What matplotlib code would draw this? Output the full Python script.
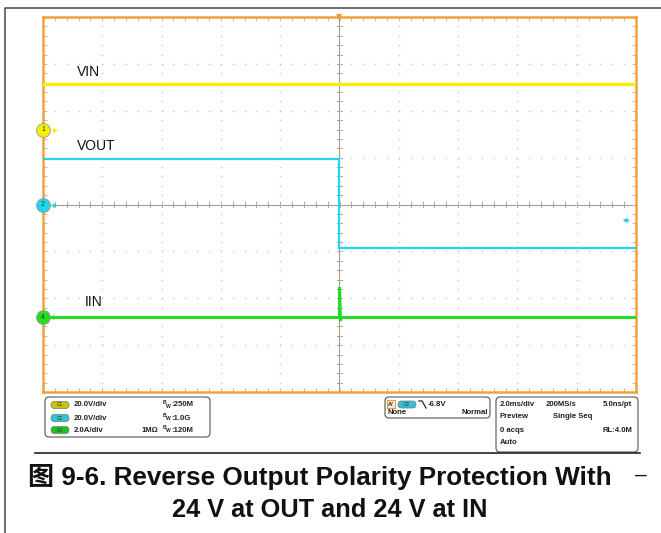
import numpy as np
import matplotlib
matplotlib.use("Agg")
import matplotlib.pyplot as plt
from matplotlib.patches import FancyBboxPatch, Rectangle

# ── Scope capture data ────────────────────────────────────────────────────
# time in ms (2.0 ms/div, 10 divisions), trigger at t = 0
vin_t = [-10.0, 10.0]
vin_v = [19.6, 19.6]

vout_t = [-10.0, 0.0, 0.0, 10.0]
vout_v = [19.6, 19.6, -18.7, -18.7]

iin_t = [-10.0, 0.0, 0.0, 0.03, 0.06, 10.0]
iin_a = [0.0, 0.0, 1.3, -0.15, 0.0, 0.0]

# per-channel volts (amps) per division and ground offset in divisions
ch_names = ["VIN", "VOUT", "IIN"]
ch_ids = ["1", "2", "4"]
ch_scale = [20.0, 20.0, 2.0]
ch_offset = [1.60, 0.0, -2.41]
ch_colors = ["#f5ef00", "#22d6ee", "#22dd22"]
trig_level = -6.8   # V, on C2

# readout panel text
ch_rows = [("C1", "20.0V/div", "", "250M"),
           ("C2", "20.0V/div", "", "1.0G"),
           ("C4", "2.0A/div", "1MΩ", "120M")]
pill_colors = ["#c8c400", "#2ec4d6", "#22c022"]
acq_rows = [("2.0ms/div", "200MS/s", "5.0ns/pt"),
            ("Preview", "Single Seq", ""),
            ("0 acqs", "", "RL:4.0M"),
            ("Auto", "", "")]

title_lines = ["图 9-6. Reverse Output Polarity Protection With",
               "24 V at OUT and 24 V at IN"]

W, H = 661, 533
fig = plt.figure(figsize=(W / 100, H / 100), dpi=100)
plt.rcParams['font.family'] = ['Liberation Sans', 'Noto Sans CJK SC', 'DejaVu Sans']

# overlay in pixel coordinates for the page furniture
bg = fig.add_axes([0, 0, 1, 1])
bg.set_xlim(0, W); bg.set_ylim(H, 0); bg.axis("off")
bg.plot([4.5, 4.5, W], [H, 7.5, 7.5], color="#555555", lw=1.2)

# ── Graticule ─────────────────────────────────────────────────────────────
ax = fig.add_axes([43 / W, (H - 392) / H, 593 / W, 375 / H])
ax.set_xlim(-10, 10)
ax.set_ylim(-4, 4)
for s in ax.spines.values():
    s.set_color("#f2a23c"); s.set_linewidth(1.8)
ax.set_xticks(np.arange(-10, 10.01, 0.4))
ax.set_yticks(np.arange(-4, 4.01, 0.2))
ax.tick_params(direction="in", length=3, width=0.8, color="#c4bcb0",
               top=True, right=True, labelbottom=False, labelleft=False)

dot_x = np.arange(-10, 10.01, 0.4)
dot_y = np.arange(-4, 4.01, 0.2)
for gy in range(-3, 4):
    if gy != 0:
        ax.plot(dot_x, np.full_like(dot_x, gy), ls="none", marker="s",
                ms=1.0, color="#c4c4c4", mew=0)
for gx in range(-8, 9, 2):
    if gx != 0:
        ax.plot(np.full_like(dot_y, gx), dot_y, ls="none", marker="s",
                ms=1.0, color="#c4c4c4", mew=0)

# centre cross with minor ticks
ax.axhline(0, color="#a89c8c", lw=0.8, zorder=1)
ax.axvline(0, color="#a89c8c", lw=0.8, zorder=1)
for x in np.arange(-10, 10.01, 0.4):
    ax.plot([x, x], [-0.06, 0.06], color="#b0a494", lw=0.7, zorder=1)
for y in np.arange(-4, 4.01, 0.2):
    ax.plot([-0.08, 0.08], [y, y], color="#b0a494", lw=0.7, zorder=1)

# ── Traces ────────────────────────────────────────────────────────────────
series = [(vin_t, vin_v), (vout_t, vout_v), (iin_t, iin_a)]
widths = [2.4, 1.6, 2.2]
for (t, v), sc, off, col, lw in zip(series, ch_scale, ch_offset, ch_colors, widths):
    ax.plot(t, off + np.asarray(v) / sc, color=col, lw=lw, zorder=3,
            solid_joinstyle="miter")

label_pos = [(-8.87, ch_offset[0] + vin_v[0] / ch_scale[0] + 0.09),
             (-8.87, ch_offset[1] + vout_v[0] / ch_scale[1] + 0.11),
             (-8.6, ch_offset[2] + 0.19)]
for name, (x, y) in zip(ch_names, label_pos):
    ax.text(x, y, name, fontsize=10, color="#111111", va="bottom", ha="left")

# channel ground markers on the left edge
for cid, off, col in zip(ch_ids, ch_offset, ch_colors):
    ax.plot(-10, off, marker="o", ms=10, color=col, mec="#999999", mew=0.6,
            clip_on=False, zorder=5)
    ax.text(-10, off, cid, fontsize=5, ha="center", va="center",
            color="#333333", zorder=6, clip_on=False)
    ax.plot(-9.6, off, marker=">", ms=3.5, color=col, mew=0, zorder=5)

# trigger position and level markers
ax.plot(0, 4, marker="v", ms=5, color="#f29a2a", clip_on=False, zorder=6, mew=0)
lvl = ch_offset[1] + trig_level / ch_scale[1]
ax.annotate("", xy=(9.45, lvl), xytext=(9.85, lvl),
            arrowprops=dict(arrowstyle="-|>", color=ch_colors[1], lw=1.0,
                            mutation_scale=6))

# ── Readout panel ─────────────────────────────────────────────────────────
bg.plot([35, 640], [452.5, 452.5], color="#222222", lw=1.2)

def box(x0, y0, x1, y1):
    bg.add_patch(FancyBboxPatch((x0, y0), x1 - x0, y1 - y0,
                                boxstyle="round,pad=0,rounding_size=4",
                                fc="none", ec="#555555", lw=0.8))

def pill(x, y, txt, col):
    bg.add_patch(FancyBboxPatch((x, y - 3.5), 18, 7,
                                boxstyle="round,pad=0,rounding_size=3.5",
                                fc=col, ec="#777777", lw=0.5))
    bg.text(x + 9, y, txt, fontsize=3.5, ha="center", va="center", color="#333333")

box(45, 397, 210, 437)
box(385, 397, 490, 418)
box(496, 397, 638, 452)

small = dict(fontsize=5.6, fontweight="bold", color="#222222", va="center")
tiny = dict(fontsize=3.6, fontweight="bold", color="#222222", va="center")
row_y = [405, 418, 430]
for (cid, vdiv, imp, bw), col, y in zip(ch_rows, pill_colors, row_y):
    pill(51, y, cid, col)
    bg.text(74, y, vdiv, ha="left", **small)
    if imp:
        bg.text(142, y, imp, ha="left", **small)
    bg.text(162.5, y - 2.2, "B", ha="left", **tiny)
    bg.text(165.6, y + 1.0, "W", ha="left", **tiny)
    bg.text(171, y, ":" + bw, ha="left", **small)

# trigger readout
bg.add_patch(Rectangle((387, 400), 8, 8, fc="#eeeeee", ec="#f29a2a", lw=0.8))
bg.text(391, 404, "A'", ha="center", fontsize=4.5, fontweight="bold",
        color="#222222", va="center")
pill(398, 404.5, "C2", pill_colors[1])
bg.plot([419, 422, 426], [401, 401, 408], color="#222222", lw=0.9)
bg.text(428, 404.5, "%.1fV" % trig_level, ha="left", **small)
bg.text(388, 413, "None", ha="left", **small)
bg.text(488, 413, "Normal", ha="right", **small)

# acquisition readout
acq_y = [405, 417, 430, 442]
for (a, b, c), y in zip(acq_rows, acq_y):
    bg.text(500, y, a, ha="left", **small)
    if b:
        bg.text(553 if b == "Single Seq" else 546, y, b, ha="left", **small)
    if c:
        bg.text(632, y, c, ha="right", **small)

# ── Caption ───────────────────────────────────────────────────────────────
bg.text(28, 477, title_lines[0], fontsize=18.8, fontweight="bold", ha="left",
        va="center", color="#111111")
bg.text(641, 475, "–", fontsize=15, ha="center", va="center", color="#111111")
bg.text(330, 510, title_lines[1], fontsize=18.3, fontweight="bold", ha="center",
        va="center", color="#111111")

fig.savefig("out.png", dpi=100)
